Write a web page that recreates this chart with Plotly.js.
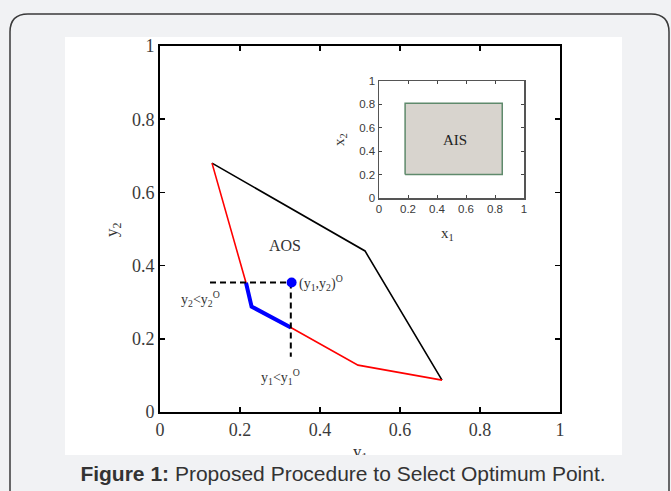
<!DOCTYPE html>
<html>
<head>
<meta charset="utf-8">
<script src="https://cdn.plot.ly/plotly-3.0.1.min.js"></script>
<style>html,body{margin:0;padding:0;background:#f1f2f4;}#chart{width:671px;height:491px;}</style>
</head>
<body>
<div id="chart"></div>
<script>
// ---- data ----
const aosUpperX = [0.13, 0.5125, 0.705];
const aosUpperY = [0.68, 0.44, 0.087];
const aosLowerX = [0.13, 0.215, 0.229, 0.327, 0.495, 0.705];
const aosLowerY = [0.68, 0.353, 0.288, 0.231, 0.128, 0.087];
const selectedX = [0.215, 0.229, 0.327];
const selectedY = [0.353, 0.288, 0.231];
const refPointX = [0.329];
const refPointY = [0.354];
const dashHX = [0.125, 0.329];
const dashHY = [0.354, 0.354];
const dashVX = [0.327, 0.327];
const dashVY = [0.354, 0.151];
const aisX = [0.18, 0.85, 0.85, 0.18, 0.18];
const aisY = [0.2, 0.2, 0.81, 0.81, 0.2];
const tickVals = [0, 0.2, 0.4, 0.6, 0.8, 1];
const tickText = ['0', '0.2', '0.4', '0.6', '0.8', '1'];

const W = 671, H = 491;
const px = v => v / W;
const py = v => 1 - v / H;

// card border path (rounded top corners)
const r = 18, L = 10, R = 669, T = 14, B = 520;
const cardPath = `M ${px(L)},${py(B)} L ${px(L)},${py(T + r)} Q ${px(L)},${py(T)} ${px(L + r)},${py(T)} L ${px(R - r)},${py(T)} Q ${px(R)},${py(T)} ${px(R)},${py(T + r)} L ${px(R)},${py(B)}`;

const serif = 'Liberation Serif, Times New Roman, serif';
const sans = 'Liberation Sans, Arial, sans-serif';
const txt = '#333333';

const traces = [
  {x: aosUpperX, y: aosUpperY, mode: 'lines', line: {color: '#000000', width: 1.6}, xaxis: 'x', yaxis: 'y', hoverinfo: 'skip'},
  {x: aosLowerX, y: aosLowerY, mode: 'lines', line: {color: '#ff0000', width: 1.6}, xaxis: 'x', yaxis: 'y', hoverinfo: 'skip'},
  {x: selectedX, y: selectedY, mode: 'lines', line: {color: '#0000ff', width: 4}, xaxis: 'x', yaxis: 'y', hoverinfo: 'skip'},
  {x: dashHX, y: dashHY, mode: 'lines', line: {color: '#000000', width: 2, dash: '6px,4px'}, xaxis: 'x', yaxis: 'y', hoverinfo: 'skip'},
  {x: dashVX, y: dashVY, mode: 'lines', line: {color: '#000000', width: 2, dash: '6px,4px'}, xaxis: 'x', yaxis: 'y', hoverinfo: 'skip'},
  {x: refPointX, y: refPointY, mode: 'markers', marker: {color: '#0000ff', size: 10}, xaxis: 'x', yaxis: 'y', hoverinfo: 'skip'},
  {x: aisX, y: aisY, mode: 'lines', fill: 'toself', fillcolor: '#d8d4ce', line: {color: '#5f8a6c', width: 1.5}, xaxis: 'x2', yaxis: 'y2', hoverinfo: 'skip'}
];

const mainAxis = {
  range: [0, 1], tickvals: tickVals, ticktext: tickText, ticks: 'inside', ticklen: 5, tickwidth: 1.5,
  tickcolor: '#000', showline: true, linewidth: 2, linecolor: '#000', mirror: 'ticks',
  showgrid: false, zeroline: false, tickfont: {family: serif, size: 18, color: '#3a3a3a'}, fixedrange: true
};
const insetAxis = {
  range: [0, 1], tickvals: tickVals, ticktext: tickText, ticks: 'inside', ticklen: 3, tickwidth: 1,
  tickcolor: '#444', showline: true, linewidth: 1.5, linecolor: '#555', mirror: 'ticks',
  showgrid: false, zeroline: false, tickfont: {family: sans, size: 11.5, color: '#3a3a3a'}, fixedrange: true
};

const ann = (o) => Object.assign({showarrow: false, xanchor: 'center', yanchor: 'middle'}, o);

const layout = {
  width: W, height: H,
  margin: {l: 0, r: 0, t: 0, b: 0},
  paper_bgcolor: '#f1f2f4',
  plot_bgcolor: '#ffffff',
  showlegend: false,
  xaxis: Object.assign({}, mainAxis, {domain: [px(160), px(560)], anchor: 'y'}),
  yaxis: Object.assign({}, mainAxis, {domain: [py(412), py(46)], anchor: 'x'}),
  xaxis2: Object.assign({}, insetAxis, {domain: [px(379), px(524)], anchor: 'y2'}),
  yaxis2: Object.assign({}, insetAxis, {domain: [py(198), py(81)], anchor: 'x2'}),
  shapes: [
    {type: 'path', xref: 'paper', yref: 'paper', path: cardPath, line: {color: '#3a3a3a', width: 1.5}, layer: 'below'},
    {type: 'rect', xref: 'paper', yref: 'paper', x0: px(65), x1: px(622), y0: py(455), y1: py(37), fillcolor: '#ffffff', line: {width: 0}, layer: 'below'}
  ],
  annotations: [
    ann({xref: 'paper', yref: 'paper', x: px(113), y: py(230), text: 'y<sub>2</sub>', textangle: -90, font: {family: serif, size: 17, color: txt}}),
    ann({xref: 'paper', yref: 'paper', x: px(360), y: py(453), text: 'y<sub>1</sub>', font: {family: serif, size: 17, color: txt}}),
    ann({xref: 'paper', yref: 'paper', x: px(447), y: py(234), text: 'x<sub>1</sub>', font: {family: serif, size: 15, color: txt}}),
    ann({xref: 'paper', yref: 'paper', x: px(340), y: py(140), text: 'x<sub>2</sub>', textangle: -90, font: {family: serif, size: 15, color: txt}}),
    ann({xref: 'x', yref: 'y', x: 0.3125, y: 0.456, text: 'AOS', font: {family: serif, size: 16, color: txt}}),
    ann({xref: 'x', yref: 'y', x: 0.343, y: 0.352, xanchor: 'left', text: '(y<sub>1</sub>,y<sub>2</sub>)<sup>O</sup>', font: {family: serif, size: 14, color: txt}}),
    ann({xref: 'x', yref: 'y', x: 0.1, y: 0.31, text: 'y<sub>2</sub>&lt;y<sub>2</sub><sup>O</sup>', font: {family: serif, size: 14, color: txt}}),
    ann({xref: 'x', yref: 'y', x: 0.30, y: 0.096, text: 'y<sub>1</sub>&lt;y<sub>1</sub><sup>O</sup>', font: {family: serif, size: 14, color: txt}}),
    ann({xref: 'x2', yref: 'y2', x: 0.524, y: 0.5, text: 'AIS', font: {family: serif, size: 15, color: '#222'}}),
    ann({xref: 'paper', yref: 'paper', x: px(342.5), y: py(473), width: 600, height: 36, borderpad: 0, borderwidth: 0,
         bgcolor: '#f1f2f4', align: 'center', valign: 'middle',
         text: '<b>Figure 1:</b> Proposed Procedure to Select Optimum Point.', font: {family: sans, size: 21, color: '#333'}})
  ]
};

Plotly.newPlot('chart', traces, layout, {staticPlot: true, displayModeBar: false});
</script>
</body>
</html>
